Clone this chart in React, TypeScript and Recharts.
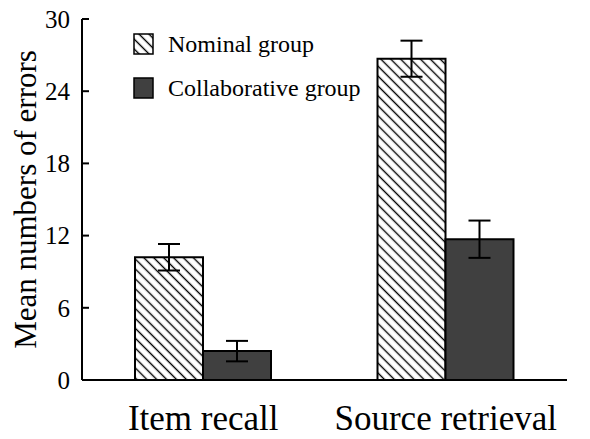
import { BarChart, Bar, XAxis, YAxis, ErrorBar, Legend } from "recharts";

const categories = ["Item recall", "Source retrieval"];
const nominal = [10.2, 26.7];
const nominalErr = [1.1, 1.5];
const collaborative = [2.4, 11.7];
const collaborativeErr = [0.85, 1.55];
const yTicks = [0, 6, 12, 18, 24, 30];
const seriesOrder = ["nominal", "collaborative"];

const SERIF = "Liberation Serif, Times New Roman, Times, DejaVu Serif, Noto Serif, serif";
const DARK = "#404040";

const data = categories.map((name, i) => ({
  name,
  nominal: nominal[i],
  nominalErr: nominalErr[i],
  collaborative: collaborative[i],
  collaborativeErr: collaborativeErr[i],
}));

// legend drawn by hand so the hatch swatch matches the bars
function renderLegend(props: any) {
  const items = [...(props.payload ?? [])].sort(
    (a: any, b: any) => seriesOrder.indexOf(a.dataKey) - seriesOrder.indexOf(b.dataKey)
  );
  return (
    <div style={{ fontFamily: SERIF, fontSize: 24, color: "#000" }}>
      {items.map((it: any) => (
        <div
          key={it.value}
          style={{ display: "flex", alignItems: "center", height: 44 }}
        >
          <svg width={21} height={22} style={{ marginRight: 14 }}>
            <rect
              x={1}
              y={1}
              width={19}
              height={20}
              fill={it.dataKey === "nominal" ? "url(#hatch)" : DARK}
              stroke="#000"
              strokeWidth={1.5}
            />
          </svg>
          <span>{it.value}</span>
        </div>
      ))}
    </div>
  );
}

export default function App() {
  return (
    <div style={{ position: "absolute", left: 0, top: 0, fontFamily: SERIF }}>
      <BarChart
        width={590}
        height={439}
        data={data}
        margin={{ top: 19, right: 23, bottom: 0, left: 0 }}
        barSize={68}
        barGap={0}
        style={{ fontFamily: SERIF }}
      >
        <defs>
          <pattern
            id="hatch"
            patternUnits="userSpaceOnUse"
            width={7}
            height={7}
            patternTransform="rotate(-45)"
          >
            <rect width={7} height={7} fill="#fff" />
            <line x1={3.5} y1={0} x2={3.5} y2={7} stroke="#000" strokeWidth={1.4} />
          </pattern>
        </defs>
        <YAxis
          width={82}
          domain={[0, 30]}
          ticks={yTicks}
          interval={0}
          tickSize={-7}
          tickMargin={19}
          axisLine={{ stroke: "#000", strokeWidth: 2 }}
          tickLine={{ stroke: "#000", strokeWidth: 2 }}
          tick={{ fontSize: 25, fill: "#000", fontFamily: SERIF }}
          label={{
            value: "Mean numbers of errors",
            angle: -90,
            position: "insideLeft",
            offset: 25,
            style: { textAnchor: "middle", fontSize: 31, fill: "#000", fontFamily: SERIF },
          }}
        />
        <XAxis
          dataKey="name"
          height={59}
          tickLine={false}
          tickSize={0}
          tickMargin={25}
          axisLine={{ stroke: "#000", strokeWidth: 2 }}
          tick={{ fontSize: 35, fill: "#000", fontFamily: SERIF }}
        />
        <XAxis
          xAxisId="edge"
          type="number"
          domain={[0, 2]}
          ticks={[0, 1, 2]}
          allowDataOverflow
          mirror
          height={0}
          tick={false}
          tickSize={12}
          axisLine={false}
          tickLine={{ stroke: "#000", strokeWidth: 2 }}
        />
        <Legend
          layout="vertical"
          align="center"
          verticalAlign="middle"
          content={renderLegend}
          wrapperStyle={{ left: 133, top: 22, width: 260 }}
        />
        <Bar
          dataKey="nominal"
          name="Nominal group"
          fill="url(#hatch)"
          stroke="#000"
          strokeWidth={2}
          isAnimationActive={false}
        >
          <ErrorBar dataKey="nominalErr" width={11} stroke="#000" strokeWidth={2} />
        </Bar>
        <Bar
          dataKey="collaborative"
          name="Collaborative group"
          fill={DARK}
          stroke="#000"
          strokeWidth={2}
          isAnimationActive={false}
        >
          <ErrorBar dataKey="collaborativeErr" width={11} stroke="#000" strokeWidth={2} />
        </Bar>
      </BarChart>
    </div>
  );
}
